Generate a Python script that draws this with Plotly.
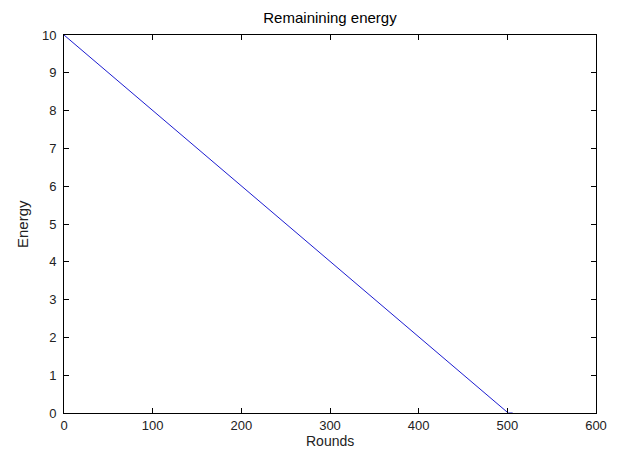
import plotly.graph_objects as go

rounds = [0, 501, 506]
energy = [10, 0, 0]
x_ticks = [0, 100, 200, 300, 400, 500, 600]
y_ticks = [0, 1, 2, 3, 4, 5, 6, 7, 8, 9, 10]

FONT = "Liberation Sans, Arial"

fig = go.Figure()
fig.add_trace(go.Scatter(x=rounds, y=energy, mode="lines",
                         line=dict(color="#1c1cd0", width=1), showlegend=False))

axis_common = dict(showline=True, linecolor="black", linewidth=1, mirror="ticks",
                   ticks="inside", ticklen=5, tickcolor="black", showgrid=False,
                   zeroline=False, automargin=False,
                   tickfont=dict(family=FONT, size=13, color="#222"))

L, R, T, B = 64, 596, 35, 413
fig.update_layout(
    width=619, height=450,
    margin=dict(l=L, r=619 - R, t=T, b=450 - B),
    paper_bgcolor="white", plot_bgcolor="white",
    title=dict(text="Remainining energy", x=(L + R) / 2 / 619, xanchor="center",
               y=1 - 18 / 450, yanchor="middle",
               font=dict(family=FONT, size=15, color="black")),
    xaxis=dict(range=[0, 600], tickvals=x_ticks, ticklabelstandoff=0, **axis_common),
    yaxis=dict(range=[0, 10], tickvals=y_ticks, ticklabelstandoff=4, **axis_common),
    annotations=[
        dict(text="Rounds", xref="paper", yref="paper", x=0.5, y=-(451 - B) / (B - T),
             xanchor="center", yanchor="bottom", showarrow=False,
             font=dict(family=FONT, size=14, color="#222")),
        dict(text="Energy", xref="paper", yref="paper", x=-(L - 22) / (R - L), y=0.5,
             xanchor="center", yanchor="middle", showarrow=False, textangle=-90,
             font=dict(family=FONT, size=15, color="#222")),
    ],
)

fig.write_html("out.html")
